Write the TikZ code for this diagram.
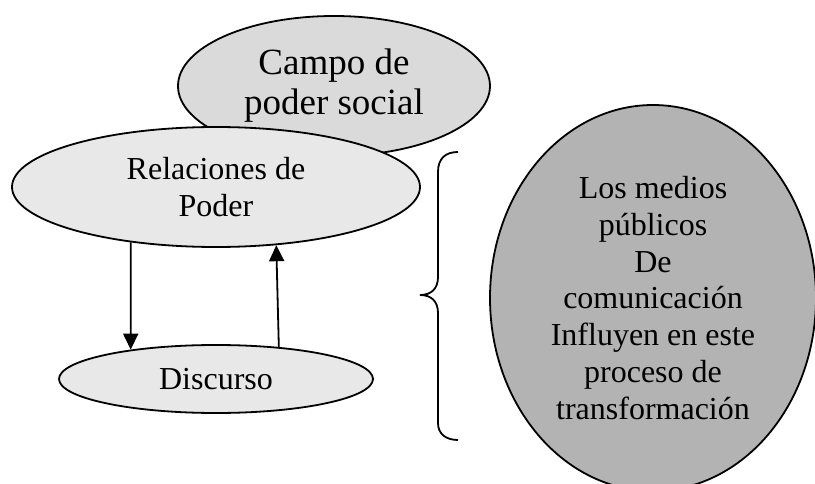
\documentclass[tikz,border=0pt]{standalone}
\usepackage{fontspec}
\setmainfont{Liberation Serif}
\usetikzlibrary{shapes.geometric,arrows.meta}
\definecolor{campofill}{RGB}{218,218,218}
\definecolor{relfill}{RGB}{232,232,232}
\definecolor{bigfill}{RGB}{179,179,179}
\tikzset{
  oval/.style={ellipse, draw=black, line width=1.8pt, inner sep=0pt, align=center},
  arr/.style={line width=1.8pt, -{Triangle[length=16pt,width=15pt]}},
  bracestyle/.style={line width=1.8pt}
}
\begin{document}
\begin{tikzpicture}[x=1pt,y=-1pt]
\useasboundingbox (0,0) rectangle (815,484);
\clip (0,0) rectangle (815,484);
% top ellipse
\node[oval, fill=campofill, minimum width=312pt, minimum height=140pt,
      font=\fontsize{37}{40}\selectfont] (campo) at (334,86) {Campo de\\poder social};
% Relaciones
\node[oval, fill=relfill, minimum width=408pt, minimum height=120pt,
      font=\fontsize{32}{37}\selectfont] (rel) at (216,187) {Relaciones de\\Poder};
% Discurso
\node[oval, fill=relfill, minimum width=314pt, minimum height=68pt,
      font=\fontsize{32}{37}\selectfont] (dis) at (216,379) {Discurso};
% big ellipse
\node[oval, fill=bigfill, minimum width=326pt, minimum height=386pt,
      font=\fontsize{32}{36.7}\selectfont] (big) at (653,298)
  {Los medios\\públicos\\De\\comunicación\\Influyen en este\\proceso de\\transformación};
% arrows
\draw[arr] (rel.213.07) -- (dis.161.14);
\draw[arr] (dis.27.6) -- (rel.316.3);
% brace
\draw[bracestyle] (458,152) .. controls (446,152) and (438,158) .. (438,172)
  -- (438,277) .. controls (438,289) and (431,295) .. (420,295)
  .. controls (431,295) and (438,301) .. (438,313)
  -- (438,423) .. controls (438,434) and (446,440) .. (458,440);
\end{tikzpicture}
\end{document}
